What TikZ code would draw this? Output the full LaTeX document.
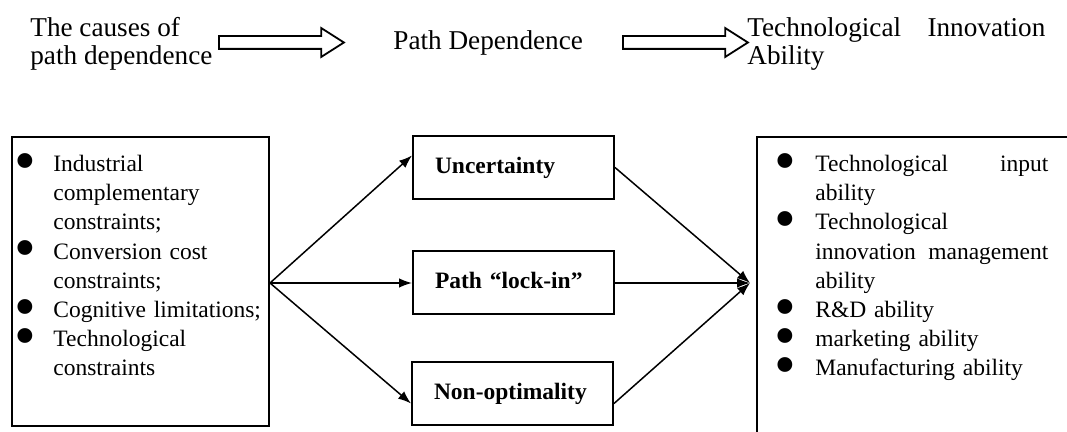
\documentclass[tikz,border=0pt]{standalone}
\usepackage{fontspec}
\setmainfont{Liberation Serif}
\usetikzlibrary{arrows.meta,shapes.arrows}
\newlength{\bulind}
\newcommand{\bigdot}{\smash{\raisebox{-4.9pt}{\fontsize{31}{31}\selectfont\textbullet}}}
\newcommand{\bitem}{\par\noindent\hangindent=\bulind\hangafter=1\makebox[\bulind][l]{\hspace*{-2pt}\bigdot}}
\begin{document}
\begin{tikzpicture}[x=0.5pt,y=-0.5pt,
    box/.style={draw,line width=1pt,inner sep=0pt},
    midbox/.style={draw,line width=1pt,minimum width=100.5pt,minimum height=31.5pt,
      text width=78.5pt,inner xsep=11pt,align=left,text height=13pt,text depth=7pt,
      font=\fontsize{11.75}{14}\selectfont\bfseries},
    list/.style={inner sep=0pt,anchor=north west,font=\fontsize{11.75}{14.6}\selectfont},
    head/.style={inner sep=0pt,font=\fontsize{13.6}{14}\selectfont},
    hollow/.style={draw,line width=0.9pt,single arrow,single arrow head extend=4pt,
      single arrow tip angle=65,single arrow head indent=0pt,minimum height=62.5pt,
      inner xsep=0pt,inner ysep=2.75pt,anchor=west},
    link/.style={line width=0.75pt,-{Latex[length=6.5pt,width=4.8pt]}}]
    \useasboundingbox (0,0) rectangle (1067,432);
    \clip (0,0) rectangle (1067,432);

    \node (causes) [head,align=left,anchor=north west] at (30,17) {The causes of\\path dependence};
    \node (arr1) [hollow] at (218,42.5) {};
    \node (pathdep) [head,anchor=base west] at (393,50) {Path Dependence};
    \node (arr2) [hollow] at (622,42.5) {};
    \node (tia) [head,align=left,text width=149pt,anchor=north west] at (747,17) {Technological\hfill Innovation\\Ability};

    \node (causesbox) [box,anchor=north west,minimum width=128.5pt,minimum height=144.5pt] at (11,136) {};
    \node (causeslist) [list,text width=122.5pt,execute at begin node={\setlength{\bulind}{17.5pt}}] at (18,142)
      {\bitem Industrial\newline complementary\newline constraints; \bitem Conversion cost\newline constraints;
       \bitem Cognitive limitations; \bitem Technological\newline constraints\par};

    \node (unc) [midbox] at (513.5,167.5) {Uncertainty};
    \node (lockin) [midbox] at (513.5,283) {Path “lock-in”};
    \node (nonopt) [midbox] at (512.5,393.5) {Non-optimality};

    \node (abbox) [box,anchor=north west,minimum width=200pt,minimum height=200pt] at (756,136) {};
    \node (ablist) [list,text width=135pt,execute at begin node={\setlength{\bulind}{18.5pt}}] at (778,142)
      {\bitem Technological\hfill input\newline ability \bitem Technological\newline innovation\hfill management\newline ability
       \bitem R\&D ability \bitem marketing ability \bitem Manufacturing ability\par};

    \coordinate (fork) at (causesbox.east |- lockin.west);
    \path (abbox.west |- lockin.east) ++(-6,0) coordinate (merge);

    \draw[link] (fork) -- ([yshift=6pt]unc.west);
    \draw[link] (fork) -- (lockin.west);
    \draw[link] (fork) -- ([yshift=-5pt]nonopt.west);
    \draw[link] (unc.east) -- (merge);
    \draw[link] (lockin.east) -- (merge);
    \draw[link] ([yshift=-5pt]nonopt.east) -- (merge);
\end{tikzpicture}
\end{document}
